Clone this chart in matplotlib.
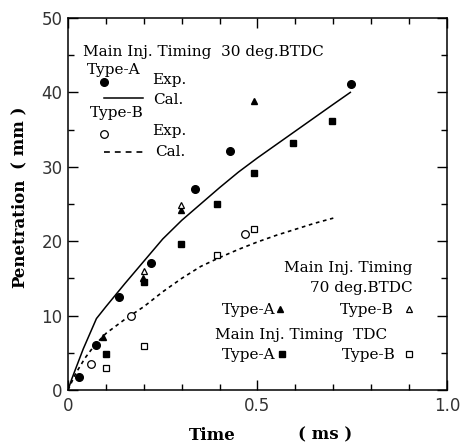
import matplotlib
matplotlib.use('Agg')
import matplotlib.pyplot as plt

# calculated penetration curves
cal_time_a = [0.0, 0.01, 0.04, 0.075, 0.1, 0.15, 0.2, 0.25, 0.3, 0.35, 0.4, 0.45, 0.5, 0.55, 0.6, 0.65, 0.7, 0.745]
cal_pen_a = [0.0, 1.5, 5.5, 9.6, 11.2, 14.3, 17.3, 20.3, 22.8, 25.0, 27.2, 29.3, 31.2, 33.0, 34.8, 36.6, 38.4, 40.0]
cal_time_b = [0.0, 0.02, 0.045, 0.07, 0.1, 0.15, 0.2, 0.25, 0.3, 0.35, 0.4, 0.45, 0.5, 0.55, 0.6, 0.65, 0.7]
cal_pen_b = [0.0, 2.2, 4.3, 6.0, 7.6, 9.5, 11.2, 13.2, 15.0, 16.6, 17.8, 18.9, 19.9, 20.8, 21.6, 22.4, 23.1]

# experiments, main inj. timing 30 deg.BTDC
a30_time = [0.03, 0.075, 0.135, 0.22, 0.336, 0.428, 0.747]
a30_pen = [1.8, 6.0, 12.5, 17.1, 27.0, 32.1, 41.1]
b30_time = [0.06, 0.166, 0.468]
b30_pen = [3.5, 9.9, 21.0]

# main inj. timing 70 deg.BTDC
a70_time = [0.092, 0.197, 0.298, 0.49]
a70_pen = [7.1, 15.0, 24.2, 38.8]
b70_time = [0.2, 0.298]
b70_pen = [16.0, 24.9]

# main inj. timing TDC
atdc_time = [0.1, 0.201, 0.297, 0.393, 0.49, 0.595, 0.697]
atdc_pen = [4.9, 14.5, 19.6, 25.0, 29.1, 33.2, 36.2]
btdc_time = [0.1, 0.201, 0.393, 0.492]
btdc_pen = [3.0, 5.9, 18.2, 21.6]

serif = 'DejaVu Serif'
tick_font = 'DejaVu Sans'

fig = plt.figure(figsize=(4.63, 4.45), dpi=100)
ax = fig.add_axes([0.1469, 0.1236, 0.8185, 0.836])

ax.plot(cal_time_a, cal_pen_a, color='black', lw=1.1)
ax.plot(cal_time_b, cal_pen_b, color='black', lw=1.2, dashes=(2.2, 2.2))

ax.plot(a30_time, a30_pen, 'o', color='black', ms=5.5)
ax.plot(b30_time, b30_pen, 'o', mfc='white', mec='black', mew=0.9, ms=5.5)
ax.plot(a70_time, a70_pen, '^', color='black', ms=5)
ax.plot(b70_time, b70_pen, '^', mfc='white', mec='black', mew=0.9, ms=5)
ax.plot(atdc_time, atdc_pen, 's', color='black', ms=4.2)
ax.plot(btdc_time, btdc_pen, 's', mfc='white', mec='black', mew=0.9, ms=4.5)

ax.set_xlim(0, 1.0)
ax.set_ylim(0, 50)
ax.set_xticks([0, 0.5, 1.0])
ax.set_xticklabels(['0', '0.5', '1.0'])
ax.set_xticks([0.1, 0.2, 0.3, 0.4, 0.6, 0.7, 0.8, 0.9], minor=True)
ax.set_yticks([0, 10, 20, 30, 40, 50])
ax.set_yticks([5, 15, 25, 35, 45], minor=True)
ax.tick_params(which='both', direction='in', top=True, right=True, width=1.0, color='black')
ax.tick_params(which='major', length=7.5, labelsize=12, labelcolor='#333333')
ax.tick_params(which='minor', length=4)
ax.tick_params(axis='x', pad=5)
ax.tick_params(axis='y', pad=4)
for lab in ax.get_xticklabels() + ax.get_yticklabels():
    lab.set_family(tick_font)
for sp in ax.spines.values():
    sp.set_linewidth(1.1)

# upper-left legend
tx = dict(transform=ax.transAxes, family=serif, fontsize=11, va='center', color='black')
ax.text(0.040, 0.909, 'Main Inj. Timing  30 deg.BTDC', **tx)
ax.text(0.050, 0.860, 'Type-A', **tx)
ax.plot([0.095], [0.828], 'o', color='black', ms=5.5, transform=ax.transAxes)
ax.text(0.222, 0.833, 'Exp.', **tx)
ax.plot([0.095, 0.198], [0.785, 0.785], color='black', lw=1.1, transform=ax.transAxes)
ax.text(0.224, 0.780, 'Cal.', **tx)
ax.text(0.058, 0.745, 'Type-B', **tx)
ax.plot([0.095], [0.688], 'o', mfc='white', mec='black', mew=0.9, ms=5.5, transform=ax.transAxes)
ax.text(0.222, 0.696, 'Exp.', **tx)
ax.plot([0.095, 0.198], [0.640, 0.640], color='black', lw=1.2, dashes=(3.5, 3), transform=ax.transAxes)
ax.text(0.230, 0.640, 'Cal.', **tx)

# lower-right legend
ax.text(0.910, 0.328, 'Main Inj. Timing', ha='right', **tx)
ax.text(0.910, 0.274, '70 deg.BTDC', ha='right', **tx)
ax.text(0.406, 0.215, 'Type-A', **tx)
ax.plot([0.559], [0.218], '^', color='black', ms=4.5, transform=ax.transAxes)
ax.text(0.718, 0.215, 'Type-B', **tx)
ax.plot([0.900], [0.218], '^', mfc='white', mec='black', mew=0.9, ms=4.5, transform=ax.transAxes)
ax.text(0.388, 0.148, 'Main Inj. Timing  TDC', **tx)
ax.text(0.406, 0.094, 'Type-A', **tx)
ax.plot([0.565], [0.097], 's', color='black', ms=3.8, transform=ax.transAxes)
ax.text(0.723, 0.094, 'Type-B', **tx)
ax.plot([0.900], [0.097], 's', mfc='white', mec='black', mew=0.9, ms=4, transform=ax.transAxes)

# axis titles
lab = dict(ha='center', va='center', family=serif, fontsize=12, fontweight='bold')
fig.text(0.043, 0.475, 'Penetration', rotation=90, **lab)
fig.text(0.043, 0.691, '( mm )', rotation=90, **lab)
fig.text(0.458, 0.022, 'Time', **lab)
fig.text(0.703, 0.022, '( ms )', **lab)

fig.savefig('out.png', dpi=100)
